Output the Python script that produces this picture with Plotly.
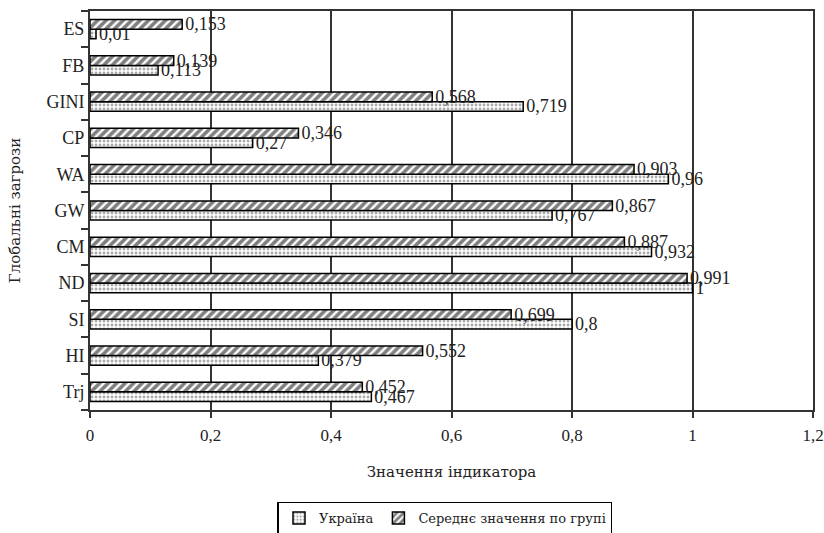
import plotly.graph_objects as go

categories = ["Trj", "HI", "SI", "ND", "CM", "GW", "WA", "CP", "GINI", "FB", "ES"]
ukraine = [0.467, 0.379, 0.8, 1, 0.932, 0.767, 0.96, 0.27, 0.719, 0.113, 0.01]
group_avg = [0.452, 0.552, 0.699, 0.991, 0.887, 0.867, 0.903, 0.346, 0.568, 0.139, 0.153]
x_ticks = [0, 0.2, 0.4, 0.6, 0.8, 1, 1.2]

def fmt(v):
    return ("%g" % v).replace(".", ",")

FONT = "'Liberation Serif', 'DejaVu Serif', serif"
CYR = "'DejaVu Serif', 'Liberation Serif', serif"

fig = go.Figure()
fig.add_trace(go.Bar(
    y=categories, x=ukraine, orientation="h", name="Україна",
    text=[fmt(v) for v in ukraine], textposition="outside",
    marker=dict(color="white", line=dict(color="black", width=1.5),
                pattern=dict(shape=".", fgcolor="#555", bgcolor="white", size=4, solidity=0.4)),
    textfont=dict(family=FONT, size=18, color="#222"),
    cliponaxis=False,
))
fig.add_trace(go.Bar(
    y=categories, x=group_avg, orientation="h", name="Середнє значення по групі",
    text=[fmt(v) for v in group_avg], textposition="outside",
    marker=dict(color="white", line=dict(color="black", width=1.5),
                pattern=dict(shape="/", fgcolor="black", bgcolor="white", size=6, solidity=0.6)),
    textfont=dict(family=FONT, size=18, color="#222"),
    cliponaxis=False,
))

fig.update_layout(
    width=824, height=533,
    margin=dict(l=90, r=11, t=11, b=123, autoexpand=False),
    paper_bgcolor="white", plot_bgcolor="white",
    barmode="group", bargap=0.47, bargroupgap=0,
    separators=", ",
    font=dict(family=FONT, size=16, color="#222"),
    legend=dict(orientation="h", x=0.491, y=-0.271, xanchor="center", yanchor="middle",
                bordercolor="black", borderwidth=1.5, font=dict(family=CYR, size=13),
                itemwidth=30, traceorder="normal", tracegroupgap=0),
    xaxis=dict(range=[0, 1.2], tickvals=x_ticks, showgrid=True, gridcolor="#333", gridwidth=2,
               showline=True, linecolor="#333", linewidth=2, mirror=True,
               ticks="outside", ticklen=6, tickcolor="#333", tickwidth=1.5, ticklabelstandoff=3,
               zeroline=False, tickfont=dict(family=FONT, size=17), automargin=False,
               title=dict(text="Значення індикатора", font=dict(family=CYR, size=15), standoff=22)),
    yaxis=dict(showline=True, linecolor="#333", linewidth=2, mirror=True,
               ticks="outside", ticklen=7, tickcolor="#333", tickwidth=1.5, tickson="boundaries",
               showgrid=False, tickfont=dict(family=FONT, size=18), automargin=False,
               title=dict(text="Глобальні загрози", font=dict(family=CYR, size=15), standoff=22)),
)
fig.update_traces(constraintext="none")

fig.write_html("out.html", config={"displayModeBar": False},
               post_script="document.body.style.margin='0';")
